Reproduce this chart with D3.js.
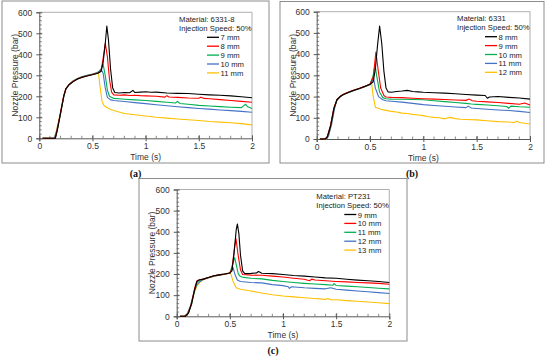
<!DOCTYPE html>
<html>
<head>
<meta charset="utf-8">
<script src="https://cdn.jsdelivr.net/npm/d3@7"></script>
<style>
  body { margin: 0; background: #fff; }
  svg { display: block; font-family: "Liberation Sans", Arial, sans-serif; }
</style>
</head>
<body>
<script>
// x ticks / y ticks
const xTicks = [0, 0.5, 1, 1.5, 2];
const yTicks = [0, 100, 200, 300, 400, 500, 600];
const colors = ['#000000', '#ff0000', '#00b050', '#4472c4', '#ffc000'];

// (a) material 6331-8
const namesA = ['7 mm', '8 mm', '9 mm', '10 mm', '11 mm'];
const a7mm = [[0.03,0],[0.15,0],[0.17,40],[0.2,120],[0.23,200],[0.25,235],[0.28,255],[0.32,270],[0.36,282],[0.4,290],[0.45,297],[0.5,303],[0.55,310],[0.58,318],[0.6,360],[0.62,450],[0.635,535],[0.65,470],[0.67,330],[0.69,240],[0.71,218],[0.75,216],[0.8,218],[0.85,217],[0.88,228],[0.9,218],[0.95,220],[1.0,222],[1.05,219],[1.1,220],[1.2,216],[1.3,214],[1.4,213],[1.5,210],[1.6,207],[1.7,205],[1.8,202],[1.9,198],[2.0,193]];
const a8mm = [[0.03,0],[0.15,0],[0.17,45],[0.2,125],[0.23,205],[0.25,237],[0.28,256],[0.32,272],[0.36,283],[0.4,291],[0.45,298],[0.5,304],[0.55,311],[0.58,320],[0.6,380],[0.62,452],[0.64,390],[0.66,280],[0.68,220],[0.7,207],[0.75,205],[0.8,207],[0.85,204],[0.9,205],[0.95,203],[1.0,202],[1.1,200],[1.18,196],[1.2,203],[1.22,197],[1.3,195],[1.4,192],[1.5,191],[1.52,196],[1.55,190],[1.6,188],[1.7,184],[1.8,180],[1.9,176],[2.0,172]];
const a9mm = [[0.03,0],[0.15,0],[0.17,40],[0.2,120],[0.23,200],[0.25,235],[0.28,257],[0.32,273],[0.36,284],[0.4,292],[0.45,299],[0.5,305],[0.55,312],[0.58,325],[0.6,352],[0.62,300],[0.64,230],[0.66,200],[0.7,190],[0.75,188],[0.8,186],[0.9,183],[1.0,180],[1.1,176],[1.2,172],[1.28,168],[1.3,176],[1.32,166],[1.4,162],[1.5,157],[1.6,154],[1.7,151],[1.8,148],[1.9,146],[1.94,162],[1.96,150],[2.0,142]];
const a10mm = [[0.03,0],[0.14,0],[0.16,30],[0.2,118],[0.23,198],[0.25,234],[0.28,256],[0.32,274],[0.36,285],[0.4,293],[0.45,300],[0.5,306],[0.55,313],[0.58,330],[0.6,310],[0.62,240],[0.64,195],[0.67,183],[0.7,180],[0.8,175],[0.9,170],[1.0,165],[1.1,160],[1.2,155],[1.3,150],[1.4,146],[1.5,142],[1.6,139],[1.7,135],[1.8,132],[1.9,128],[2.0,124]];
const a11mm = [[0.03,0],[0.14,0],[0.16,35],[0.2,122],[0.23,200],[0.25,235],[0.28,256],[0.32,273],[0.36,285],[0.4,292],[0.45,299],[0.5,305],[0.54,312],[0.555,318],[0.57,250],[0.59,175],[0.61,155],[0.65,142],[0.7,132],[0.75,125],[0.8,118],[0.9,112],[1.0,106],[1.1,100],[1.2,96],[1.3,92],[1.4,88],[1.5,85],[1.6,80],[1.7,77],[1.8,74],[1.9,70],[2.0,64]];

// (b) material 6331
const namesB = ['8 mm', '9 mm', '10 mm', '11 mm', '12 mm'];
const b8mm = [[0.03,0],[0.08,0],[0.1,10],[0.13,60],[0.16,140],[0.19,185],[0.22,200],[0.25,210],[0.3,220],[0.35,230],[0.4,238],[0.45,247],[0.5,258],[0.53,270],[0.55,330],[0.57,440],[0.59,532],[0.61,450],[0.63,320],[0.65,240],[0.67,222],[0.7,220],[0.75,224],[0.8,226],[0.85,229],[0.9,224],[0.95,222],[1.0,220],[1.1,218],[1.2,216],[1.3,213],[1.4,210],[1.5,207],[1.58,205],[1.6,192],[1.62,198],[1.7,200],[1.8,196],[1.9,193],[2.0,188]];
const b9mm = [[0.03,0],[0.08,0],[0.1,12],[0.13,65],[0.16,145],[0.19,187],[0.22,201],[0.25,211],[0.3,221],[0.35,231],[0.4,239],[0.45,248],[0.5,259],[0.53,290],[0.555,410],[0.575,330],[0.6,240],[0.63,205],[0.65,198],[0.7,196],[0.8,195],[0.9,192],[1.0,190],[1.1,188],[1.2,186],[1.3,184],[1.4,182],[1.43,188],[1.46,180],[1.5,178],[1.6,175],[1.7,172],[1.8,168],[1.9,164],[1.95,170],[2.0,160]];
const b10mm = [[0.03,0],[0.08,0],[0.1,10],[0.13,62],[0.16,142],[0.19,185],[0.22,200],[0.25,210],[0.3,220],[0.35,230],[0.4,238],[0.45,247],[0.5,258],[0.53,300],[0.547,349],[0.565,290],[0.59,220],[0.62,195],[0.65,190],[0.7,188],[0.8,187],[0.9,186],[1.0,185],[1.1,180],[1.2,176],[1.3,172],[1.4,168],[1.45,165],[1.5,163],[1.6,160],[1.7,157],[1.78,153],[1.8,145],[1.82,155],[1.9,152],[2.0,150]];
const b11mm = [[0.03,0],[0.09,0],[0.11,12],[0.14,70],[0.17,150],[0.19,183],[0.22,199],[0.25,209],[0.3,219],[0.35,229],[0.4,237],[0.45,246],[0.5,256],[0.534,286],[0.55,240],[0.58,200],[0.62,185],[0.65,180],[0.7,178],[0.8,174],[0.9,168],[1.0,162],[1.1,158],[1.2,154],[1.3,151],[1.4,148],[1.42,155],[1.45,146],[1.5,144],[1.6,140],[1.7,137],[1.8,134],[1.9,130],[2.0,125]];
const b12mm = [[0.03,0],[0.09,0],[0.11,15],[0.14,75],[0.17,155],[0.19,184],[0.22,199],[0.25,209],[0.3,219],[0.35,229],[0.4,237],[0.45,246],[0.5,257],[0.515,262],[0.53,200],[0.55,150],[0.6,140],[0.65,135],[0.7,130],[0.75,127],[0.8,122],[0.85,120],[0.9,116],[0.95,113],[1.0,110],[1.05,105],[1.1,102],[1.15,100],[1.2,95],[1.25,102],[1.3,96],[1.35,93],[1.4,92],[1.5,90],[1.6,86],[1.7,82],[1.8,80],[1.85,78],[1.88,84],[1.9,78],[2.0,71]];

// (c) material PT231
const namesC = ['9 mm', '10 mm', '11 mm', '12 mm', '13 mm'];
const c9mm = [[0.03,0],[0.08,0],[0.11,15],[0.14,60],[0.17,130],[0.19,165],[0.21,172],[0.25,176],[0.3,184],[0.35,192],[0.4,196],[0.45,200],[0.5,205],[0.52,215],[0.54,300],[0.56,410],[0.571,437],[0.585,390],[0.6,290],[0.62,215],[0.64,202],[0.7,203],[0.75,205],[0.77,212],[0.8,204],[0.9,202],[1.0,198],[1.1,193],[1.2,190],[1.3,186],[1.4,182],[1.5,180],[1.6,175],[1.7,171],[1.8,168],[1.9,165],[2.0,160]];
const c10mm = [[0.03,0],[0.08,0],[0.11,15],[0.14,62],[0.17,135],[0.19,168],[0.21,172],[0.25,176],[0.3,184],[0.35,192],[0.4,196],[0.45,200],[0.5,205],[0.52,225],[0.545,330],[0.558,367],[0.575,300],[0.6,220],[0.62,198],[0.7,195],[0.8,194],[0.9,190],[1.0,186],[1.1,180],[1.2,175],[1.25,168],[1.27,176],[1.3,172],[1.4,168],[1.5,165],[1.6,163],[1.7,160],[1.8,158],[1.9,156],[2.0,152]];
const c11mm = [[0.03,0],[0.08,0],[0.11,14],[0.14,55],[0.17,125],[0.19,160],[0.21,170],[0.25,176],[0.3,184],[0.35,191],[0.4,196],[0.45,200],[0.5,205],[0.52,235],[0.545,278],[0.56,245],[0.58,200],[0.6,188],[0.63,184],[0.7,180],[0.8,177],[0.9,170],[1.0,165],[1.1,160],[1.2,156],[1.3,153],[1.4,150],[1.47,147],[1.48,155],[1.5,146],[1.6,143],[1.7,140],[1.8,136],[1.9,133],[2.0,130]];
const c12mm = [[0.03,0],[0.07,0],[0.1,12],[0.13,50],[0.16,110],[0.19,150],[0.22,165],[0.25,174],[0.3,183],[0.35,190],[0.4,195],[0.45,199],[0.5,204],[0.515,215],[0.53,231],[0.55,195],[0.57,172],[0.6,165],[0.7,160],[0.8,158],[0.9,150],[1.0,145],[1.05,140],[1.06,132],[1.08,140],[1.2,135],[1.3,132],[1.4,130],[1.45,135],[1.5,128],[1.6,124],[1.7,120],[1.8,116],[1.9,112],[2.0,108]];
const c13mm = [[0.03,0],[0.07,0],[0.1,14],[0.13,48],[0.16,105],[0.19,142],[0.22,162],[0.25,173],[0.3,182],[0.35,189],[0.4,194],[0.45,198],[0.5,205],[0.51,200],[0.53,165],[0.56,135],[0.6,128],[0.7,120],[0.8,110],[0.9,102],[1.0,96],[1.1,92],[1.2,88],[1.3,84],[1.4,80],[1.42,84],[1.45,79],[1.5,78],[1.6,74],[1.7,71],[1.8,68],[1.9,64],[2.0,60]];

const panels = [
  { tag: '(a)', material: 'Material: 6331-8', names: namesA, series: [a7mm, a8mm, a9mm, a10mm, a11mm],
    frame: [2, 1, 267, 162], plot: [39.3, 12.3, 212.7, 126], tagY: 177 },
  { tag: '(b)', material: 'Material: 6331', names: namesB, series: [b8mm, b9mm, b10mm, b11mm, b12mm],
    frame: [280, 1.5, 264, 161.5], plot: [316.7, 11.7, 213.3, 127.3], tagY: 177 },
  { tag: '(c)', material: 'Material: PT231', names: namesC, series: [c9mm, c10mm, c11mm, c12mm, c13mm],
    frame: [139, 178.5, 268, 162.5], plot: [176.7, 189.5, 212.6, 126.8], tagY: 354 },
];

const svg = d3.select('body').append('svg')
    .attr('width', 550)
    .attr('height', 357);

panels.forEach(p => {
  const [fx, fy, fw, fh] = p.frame;
  const [px, py, pw, ph] = p.plot;

  svg.append('rect')
      .attr('x', fx).attr('y', fy).attr('width', fw).attr('height', fh)
      .attr('fill', '#fff').attr('stroke', '#8c8c8c').attr('stroke-width', 1);

  svg.append('text')
      .attr('x', fx + fw / 2).attr('y', p.tagY)
      .attr('text-anchor', 'middle')
      .style('font-family', '"Liberation Serif", "DejaVu Serif", serif')
      .style('font-size', '10px').style('font-weight', 'bold')
      .attr('fill', '#111')
      .text(p.tag);

  const x = d3.scaleLinear().domain([0, 2]).range([px, px + pw]);
  const y = d3.scaleLinear().domain([0, 600]).range([py + ph, py]);

  // plot area border (top + right)
  svg.append('path')
      .attr('d', `M${px},${py}H${px + pw}V${py + ph}`)
      .attr('fill', 'none').attr('stroke', '#9a9a9a').attr('stroke-width', 0.8);

  // minor ticks
  const g = svg.append('g');
  g.selectAll('.xm').data(d3.range(1, 20).map(i => i / 10)).enter().append('line')
      .attr('x1', d => x(d)).attr('x2', d => x(d))
      .attr('y1', py + ph).attr('y2', py + ph - 2.5)
      .attr('stroke', '#595959').attr('stroke-width', 0.7);
  g.selectAll('.ym').data(d3.range(1, 30).map(i => i * 20)).enter().append('line')
      .attr('x1', px).attr('x2', px + 2.5)
      .attr('y1', d => y(d)).attr('y2', d => y(d))
      .attr('stroke', '#595959').attr('stroke-width', 0.7);

  const xAxis = svg.append('g')
      .attr('transform', `translate(0,${py + ph})`)
      .call(d3.axisBottom(x).tickValues(xTicks).tickSize(3).tickPadding(1.5).tickFormat(d3.format('')));
  const yAxis = svg.append('g')
      .attr('transform', `translate(${px},0)`)
      .call(d3.axisLeft(y).tickValues(yTicks).tickSize(3).tickPadding(4));
  [xAxis, yAxis].forEach(ax => {
    ax.select('.domain').attr('stroke', '#595959').attr('stroke-width', 1);
    ax.selectAll('.tick line').attr('stroke', '#595959');
    ax.selectAll('text').attr('fill', '#333').style('font-size', '8.5px')
        .style('font-family', '"Liberation Sans", Arial, sans-serif');
  });
  xAxis.selectAll('.tick line').attr('y1', -3);
  yAxis.selectAll('.tick line').attr('x1', 3);

  svg.append('text')
      .attr('x', x(1)).attr('y', py + ph + 22)
      .attr('text-anchor', 'middle').attr('fill', '#333')
      .style('font-size', '8.5px')
      .text('Time (s)');
  svg.append('text')
      .attr('transform', `translate(${fx + 16},${y(300)}) rotate(-90)`)
      .attr('text-anchor', 'middle').attr('fill', '#333')
      .style('font-size', '8.5px')
      .text('Nozzle Pressure (bar)');

  const line = d3.line().x(d => x(d[0])).y(d => y(d[1]));
  // draw smallest first so the black line sits on top
  p.series.slice().reverse().forEach((s, i) => {
    const k = p.series.length - 1 - i;
    svg.append('path')
        .datum(s)
        .attr('d', line)
        .attr('fill', 'none')
        .attr('stroke', colors[k])
        .attr('stroke-width', 1.1)
        .attr('stroke-linejoin', 'round');
  });

  // legend
  const lx = px + pw;
  svg.append('text').attr('x', lx - 73).attr('y', py + 9.5)
      .attr('fill', '#222').style('font-size', '7.7px').text(p.material);
  svg.append('text').attr('x', lx - 73).attr('y', py + 18.5)
      .attr('fill', '#222').style('font-size', '7.7px').text('Injection Speed: 50%');
  p.names.forEach((n, i) => {
    const ly = py + 25 + i * 8.9;
    svg.append('line')
        .attr('x1', lx - 45).attr('x2', lx - 33)
        .attr('y1', ly).attr('y2', ly)
        .attr('stroke', colors[i]).attr('stroke-width', 1.3);
    svg.append('text').attr('x', lx - 31.5).attr('y', ly + 3)
        .attr('fill', '#222').style('font-size', '7.7px').text(n);
  });
});
</script>
</body>
</html>
